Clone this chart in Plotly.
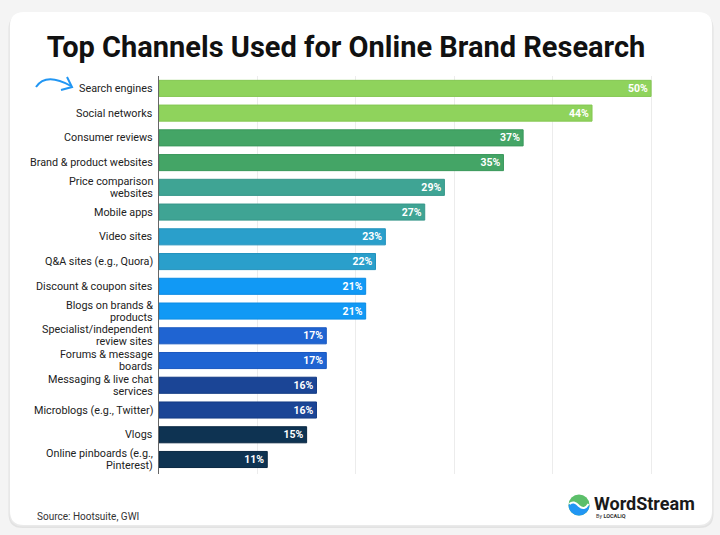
import plotly.graph_objects as go

categories = [
    "Search engines", "Social networks", "Consumer reviews", "Brand & product websites",
    "Price comparison<br>websites", "Mobile apps", "Video sites", "Q&A sites (e.g., Quora)",
    "Discount & coupon sites", "Blogs on brands &<br>products", "Specialist/independent<br>review sites",
    "Forums & message<br>boards", "Messaging & live chat<br>services", "Microblogs (e.g., Twitter)",
    "Vlogs", "Online pinboards (e.g.,<br>Pinterest)",
]
values = [50, 44, 37, 35, 29, 27, 23, 22, 21, 21, 17, 17, 16, 16, 15, 11]
value_labels = [f"{v}%" for v in values]
bar_colors = ["#8fd35c", "#8fd35c", "#44a566", "#44a566", "#3fa494", "#3fa494",
              "#2a9fcb", "#2a9fcb", "#1199f5", "#1199f5", "#1f64d2", "#1f64d2",
              "#1b4596", "#1b4596", "#0e3352", "#0e3352"]
border_colors = ["#84c752", "#84c752", "#3a985b", "#3a985b", "#37978a", "#37978a",
                 "#2392bd", "#2392bd", "#0c8ce4", "#0c8ce4", "#1a58c0", "#1a58c0",
                 "#143b85", "#143b85", "#0a2843", "#0a2843"]
title_text = "Top Channels Used for Online Brand Research"
source_text = "Source: Hootsuite, GWI"

W, H = 720, 535
PL, PR, PT, PB = 159, 656, 76, 474  # plot area in pixels


def px(x):
    return (x - PL) / (PR - PL)


def py(y):
    return (PB - y) / (PB - PT)


fig = go.Figure()
fig.add_trace(go.Bar(
    x=values, y=categories, orientation="h",
    marker=dict(color=bar_colors, line=dict(color=border_colors, width=1)),
    width=0.65,
    text=value_labels, textposition="inside", insidetextanchor="end",
    textfont=dict(family="Roboto", size=10.5, color="white", weight=700),
    constraintext="none", hoverinfo="skip",
))

shapes = []


def rounded_rect(x0, y0, x1, y1, r):
    p = (f"M {px(x0 + r)},{py(y0)} L {px(x1 - r)},{py(y0)} "
         f"Q {px(x1)},{py(y0)} {px(x1)},{py(y0 + r)} L {px(x1)},{py(y1 - r)} "
         f"Q {px(x1)},{py(y1)} {px(x1 - r)},{py(y1)} L {px(x0 + r)},{py(y1)} "
         f"Q {px(x0)},{py(y1)} {px(x0)},{py(y1 - r)} L {px(x0)},{py(y0 + r)} "
         f"Q {px(x0)},{py(y0)} {px(x0 + r)},{py(y0)} Z")
    return p


# card shadow + card
for off, col in [(3, "#e2e2e2"), (1.5, "#eaeaea")]:
    shapes.append(dict(type="path", xref="paper", yref="paper", layer="below",
                       path=rounded_rect(10 - off / 2, 12 + off, 712 + off / 2, 525 + off, 14),
                       fillcolor=col, line=dict(width=0)))
shapes.append(dict(type="path", xref="paper", yref="paper", layer="below",
                   path=rounded_rect(10, 12, 712, 525, 14),
                   fillcolor="white", line=dict(width=0)))

# hand-drawn arrow
shapes.append(dict(type="path", xref="paper", yref="paper",
                   path=f"M {px(36)},{py(87)} Q {px(46)},{py(72)} {px(71)},{py(86)}",
                   line=dict(color="#2196f3", width=2)))
shapes.append(dict(type="path", xref="paper", yref="paper",
                   path=f"M {px(67)},{py(77)} L {px(72)},{py(87)} L {px(61)},{py(90)}",
                   line=dict(color="#2196f3", width=2)))

# WordStream logo icon
cx, cy, r = 579, 505, 10.5
shapes.append(dict(type="circle", xref="paper", yref="paper",
                   x0=px(cx - r), x1=px(cx + r), y0=py(cy + r), y1=py(cy - r),
                   fillcolor="#5cbf6a", line=dict(width=0)))
k = 0.55 * r
blue_path = (f"M {px(cx - r)},{py(cy)} Q {px(cx - r / 2)},{py(cy - 5)} {px(cx)},{py(cy + 1)} "
             f"Q {px(cx + r / 2)},{py(cy + 6)} {px(cx + r)},{py(cy)} "
             f"C {px(cx + r)},{py(cy + k)} {px(cx + k)},{py(cy + r)} {px(cx)},{py(cy + r)} "
             f"C {px(cx - k)},{py(cy + r)} {px(cx - r)},{py(cy + k)} {px(cx - r)},{py(cy)} Z")
shapes.append(dict(type="path", xref="paper", yref="paper", path=blue_path,
                   fillcolor="#2196f3", line=dict(width=0)))
shapes.append(dict(type="path", xref="paper", yref="paper",
                   path=(f"M {px(cx - r + 1)},{py(cy - 1)} Q {px(cx - r / 2)},{py(cy - 5)} {px(cx)},{py(cy + 1)} "
                         f"Q {px(cx + r / 2)},{py(cy + 6)} {px(cx + r - 1)},{py(cy - 1)}"),
                   line=dict(color="white", width=2)))

annotations = []
# category labels
LINE = 12
for cat in categories:
    lines = cat.split("<br>")
    n = len(lines)
    for i, ln in enumerate(lines):
        shift = (n - 1) / 2 * LINE - i * LINE
        annotations.append(dict(text=ln, xref="paper", yref="y", x=0, y=cat,
                                xanchor="right", yanchor="middle", xshift=-4, yshift=shift,
                                showarrow=False,
                                font=dict(family="Roboto", size=10.8, color="#222222")))

annotations.append(dict(text=source_text, xref="paper", yref="paper", x=px(35), y=py(516),
                        xanchor="left", yanchor="middle", showarrow=False,
                        font=dict(family="Roboto", size=10, color="#333333")))
annotations.append(dict(text="WordStream", xref="paper", yref="paper", x=px(592), y=py(503),
                        xanchor="left", yanchor="middle", showarrow=False,
                        font=dict(family="Roboto", size=18, color="#1a1a1a", weight=700)))
annotations.append(dict(text="By <b>LOCALiQ</b>", xref="paper", yref="paper", x=px(594), y=py(516),
                        xanchor="left", yanchor="middle", showarrow=False,
                        font=dict(family="Roboto", size=5.5, color="#333333")))

fig.update_layout(
    width=W, height=H,
    margin=dict(l=PL, r=W - PR, t=PT, b=H - PB),
    paper_bgcolor="#f4f4f4", plot_bgcolor="rgba(0,0,0,0)",
    showlegend=False,
    title=dict(text=f"<b>{title_text}</b>", xref="container", yref="container",
               x=346 / W, xanchor="center", y=1 - 47 / H, yanchor="middle",
               font=dict(family="Roboto", size=29, color="#111111")),
    xaxis=dict(range=[0, 50.5], dtick=10, showgrid=True, gridcolor="#ececec", gridwidth=1,
               showticklabels=False, zeroline=False, showline=False, fixedrange=True),
    yaxis=dict(categoryorder="array", categoryarray=categories, autorange="reversed",
               showticklabels=False, showgrid=False, showline=True, linecolor="#666666",
               linewidth=1, ticks="", fixedrange=True),
    shapes=shapes, annotations=annotations,
    bargap=0.35,
)

fig.write_html("out.html", config={"displayModeBar": False},
               post_script="document.body.style.margin='0px';document.body.style.overflow='hidden';")
